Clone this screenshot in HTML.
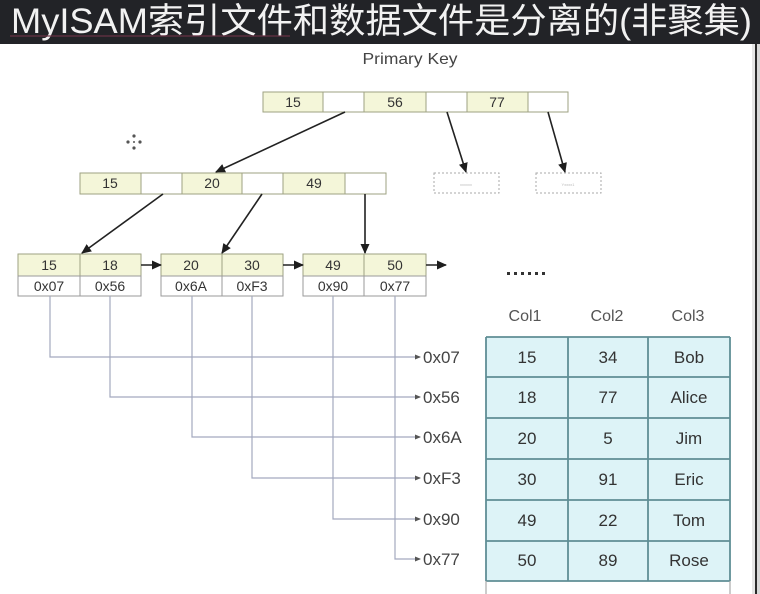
<!DOCTYPE html>
<html><head><meta charset="utf-8"><style>
html,body{margin:0;padding:0;background:#fff;}
body{width:760px;height:594px;overflow:hidden;}
svg{display:block;}
</style></head><body>
<svg width="760" height="594" viewBox="0 0 760 594" xmlns="http://www.w3.org/2000/svg">
<defs>
<marker id="ah" markerWidth="10" markerHeight="10" refX="9" refY="5" orient="auto" markerUnits="userSpaceOnUse">
<path d="M0,0.5 L10,5 L0,9.5 Z" fill="#1e1e1e"/></marker>
<marker id="sh" markerWidth="6" markerHeight="6" refX="5" refY="3" orient="auto" markerUnits="userSpaceOnUse">
<path d="M0,0.5 L6,3 L0,5.5 Z" fill="#555"/></marker>
</defs>
<!-- background -->
<rect x="0" y="0" width="760" height="594" fill="#fff"/>
<rect x="0" y="0" width="760" height="44" fill="#222327"/>
<rect x="752" y="44" width="3" height="550" fill="#e6e6e6"/>
<rect x="755" y="44" width="2" height="550" fill="#2a2a2a"/>
<rect x="757" y="44" width="3" height="550" fill="#d8d8d8"/>
<!-- title -->
<text x="11" y="33" font-family="Liberation Sans, Noto Sans CJK SC, sans-serif" font-size="35" fill="#f2f2f2" textLength="741" lengthAdjust="spacingAndGlyphs">MyISAM索引文件和数据文件是分离的(非聚集)</text>
<line x1="10" y1="36" x2="290" y2="36" stroke="#6b3346" stroke-width="1.5" opacity="0.8"/>

<text x="410" y="64" font-family="Liberation Sans, sans-serif" font-size="16" fill="#444" text-anchor="middle" textLength="95" lengthAdjust="spacingAndGlyphs">Primary Key</text>

<!-- cursor icon -->
<g fill="#555">
<circle cx="134" cy="136" r="1.6"/><circle cx="134" cy="148" r="1.6"/>
<circle cx="128" cy="142" r="1.6"/><circle cx="140" cy="142" r="1.6"/>
<circle cx="134" cy="142" r="1"/>
</g>

<g font-family="Liberation Sans, sans-serif" font-size="14" fill="#333" text-anchor="middle" stroke-width="1">
<!-- root -->
<rect x="263" y="92" width="60" height="20" fill="#f4f6d9" stroke="#9ea282"/>
<rect x="323" y="92" width="41" height="20" fill="#fff" stroke="#9ea282"/>
<rect x="364" y="92" width="62" height="20" fill="#f4f6d9" stroke="#9ea282"/>
<rect x="426" y="92" width="41" height="20" fill="#fff" stroke="#9ea282"/>
<rect x="467" y="92" width="61" height="20" fill="#f4f6d9" stroke="#9ea282"/>
<rect x="528" y="92" width="40" height="20" fill="#fff" stroke="#9ea282"/>
<text x="293" y="107">15</text><text x="395" y="107">56</text><text x="497" y="107">77</text>
<!-- middle -->
<rect x="80" y="173" width="61" height="21" fill="#f4f6d9" stroke="#9ea282"/>
<rect x="141" y="173" width="41" height="21" fill="#fff" stroke="#9ea282"/>
<rect x="182" y="173" width="60" height="21" fill="#f4f6d9" stroke="#9ea282"/>
<rect x="242" y="173" width="41" height="21" fill="#fff" stroke="#9ea282"/>
<rect x="283" y="173" width="62" height="21" fill="#f4f6d9" stroke="#9ea282"/>
<rect x="345" y="173" width="41" height="21" fill="#fff" stroke="#9ea282"/>
<text x="110" y="188">15</text><text x="212" y="188">20</text><text x="314" y="188">49</text>
<!-- leaves -->
<g>
<rect x="18" y="254" width="62" height="22" fill="#f4f6d9" stroke="#9ea282"/>
<rect x="80" y="254" width="61" height="22" fill="#f4f6d9" stroke="#9ea282"/>
<rect x="18" y="276" width="62" height="20" fill="#fff" stroke="#9a9a9a"/>
<rect x="80" y="276" width="61" height="20" fill="#fff" stroke="#9a9a9a"/>
<text x="49" y="270">15</text><text x="110" y="270">18</text>
<text x="49" y="291">0x07</text><text x="110" y="291">0x56</text>
</g>
<g>
<rect x="161" y="254" width="61" height="22" fill="#f4f6d9" stroke="#9ea282"/>
<rect x="222" y="254" width="61" height="22" fill="#f4f6d9" stroke="#9ea282"/>
<rect x="161" y="276" width="61" height="20" fill="#fff" stroke="#9a9a9a"/>
<rect x="222" y="276" width="61" height="20" fill="#fff" stroke="#9a9a9a"/>
<text x="191" y="270">20</text><text x="252" y="270">30</text>
<text x="191" y="291">0x6A</text><text x="252" y="291">0xF3</text>
</g>
<g>
<rect x="303" y="254" width="61" height="22" fill="#f4f6d9" stroke="#9ea282"/>
<rect x="364" y="254" width="62" height="22" fill="#f4f6d9" stroke="#9ea282"/>
<rect x="303" y="276" width="61" height="20" fill="#fff" stroke="#9a9a9a"/>
<rect x="364" y="276" width="62" height="20" fill="#fff" stroke="#9a9a9a"/>
<text x="333" y="270">49</text><text x="395" y="270">50</text>
<text x="333" y="291">0x90</text><text x="395" y="291">0x77</text>
</g>
</g>

<!-- dashed boxes -->
<rect x="434" y="173" width="65" height="20" fill="#fff" stroke="#aaa" stroke-dasharray="2,2"/>
<rect x="536" y="173" width="65" height="20" fill="#fff" stroke="#aaa" stroke-dasharray="2,2"/>
<text x="466" y="186" font-family="Liberation Sans, sans-serif" font-size="4" fill="#bbb" text-anchor="middle">xxxxxx</text>
<text x="568" y="186" font-family="Liberation Sans, sans-serif" font-size="4" fill="#bbb" text-anchor="middle">Yxxxx1</text>

<!-- tree arrows -->
<g stroke="#222" stroke-width="1.6" fill="none" marker-end="url(#ah)">
<line x1="345" y1="112" x2="216" y2="172"/>
<line x1="447" y1="112" x2="466" y2="172"/>
<line x1="548" y1="112" x2="565" y2="172"/>
<line x1="163" y1="194" x2="82" y2="253"/>
<line x1="262" y1="194" x2="222" y2="253"/>
<line x1="365" y1="194" x2="365" y2="253"/>
<line x1="141" y1="265" x2="161" y2="265"/>
<line x1="283" y1="265" x2="303" y2="265"/>
<line x1="426" y1="265" x2="446" y2="265"/>
</g>

<!-- dots -->
<g fill="#333">
<rect x="507" y="272" width="3" height="3"/><rect x="514" y="272" width="3" height="3"/>
<rect x="521" y="272" width="3" height="3"/><rect x="528" y="272" width="3" height="3"/>
<rect x="535" y="272" width="3" height="3"/><rect x="542" y="272" width="3" height="3"/>
</g>

<!-- connector lines -->
<g stroke="#a3a9bf" stroke-width="1.2" fill="none">
<polyline points="50,296 50,357 420,357" marker-end="url(#sh)"/>
<polyline points="110,296 110,397 420,397" marker-end="url(#sh)"/>
<polyline points="192,296 192,437 420,437" marker-end="url(#sh)"/>
<polyline points="252,296 252,478 420,478" marker-end="url(#sh)"/>
<polyline points="333,296 333,519 420,519" marker-end="url(#sh)"/>
<polyline points="395,296 395,559 420,559" marker-end="url(#sh)"/>
</g>
<g font-family="Liberation Sans, sans-serif" font-size="17" fill="#444">
<text x="423" y="363">0x07</text>
<text x="423" y="403">0x56</text>
<text x="423" y="443">0x6A</text>
<text x="423" y="484">0xF3</text>
<text x="423" y="525">0x90</text>
<text x="423" y="565">0x77</text>
</g>

<!-- column headers -->
<g font-family="Liberation Sans, sans-serif" font-size="16" fill="#555" text-anchor="middle">
<text x="525" y="321">Col1</text><text x="607" y="321">Col2</text><text x="688" y="321">Col3</text>
</g>

<!-- table -->
<rect x="486" y="337" width="244" height="244" fill="#ddf3f7"/>
<rect x="486" y="581" width="244" height="20" fill="#fff"/>
<g stroke="#5f8e95" stroke-width="1.8" fill="none">
<line x1="486" y1="337" x2="730" y2="337"/>
<line x1="486" y1="377" x2="730" y2="377"/>
<line x1="486" y1="418" x2="730" y2="418"/>
<line x1="486" y1="459" x2="730" y2="459"/>
<line x1="486" y1="500" x2="730" y2="500"/>
<line x1="486" y1="541" x2="730" y2="541"/>
<line x1="486" y1="581" x2="730" y2="581"/>
<line x1="486" y1="337" x2="486" y2="581"/>
<line x1="568" y1="337" x2="568" y2="581"/>
<line x1="648" y1="337" x2="648" y2="581"/>
<line x1="730" y1="337" x2="730" y2="581"/>
</g>
<g stroke="#aaa" stroke-width="1.2"><line x1="486" y1="581" x2="486" y2="594"/><line x1="730" y1="581" x2="730" y2="594"/></g>
<g font-family="Liberation Sans, sans-serif" font-size="17" fill="#333" text-anchor="middle">
<text x="527" y="363">15</text><text x="608" y="363">34</text><text x="689" y="363">Bob</text>
<text x="527" y="403">18</text><text x="608" y="403">77</text><text x="689" y="403">Alice</text>
<text x="527" y="444">20</text><text x="608" y="444">5</text><text x="689" y="444">Jim</text>
<text x="527" y="485">30</text><text x="608" y="485">91</text><text x="689" y="485">Eric</text>
<text x="527" y="526">49</text><text x="608" y="526">22</text><text x="689" y="526">Tom</text>
<text x="527" y="566">50</text><text x="608" y="566">89</text><text x="689" y="566">Rose</text>
</g>
</svg>
</body></html>
